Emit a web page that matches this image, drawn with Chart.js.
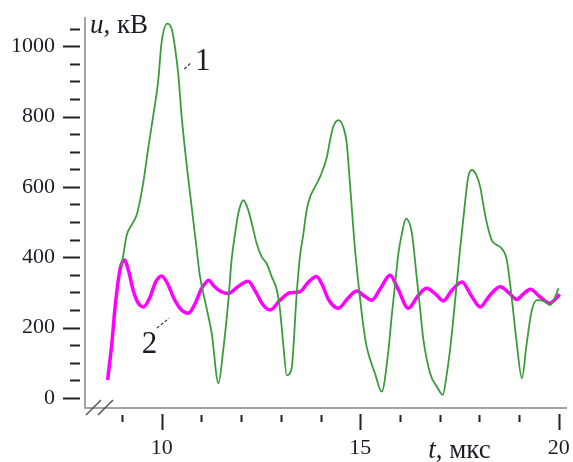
<!DOCTYPE html>
<html>
<head>
<meta charset="utf-8">
<script src="https://cdn.jsdelivr.net/npm/chart.js@4.4.1/dist/chart.umd.min.js"></script>
<style>
  html, body { margin: 0; padding: 0; background: #fff; }
  #wrap { width: 573px; height: 462px; }
</style>
</head>
<body>
<div id="wrap"><canvas id="voltChart" width="573" height="462"></canvas></div>
<script>
// curve 1 (green)
const tCurve1 = [8.97, 9.02, 9.12, 9.24, 9.37, 9.45, 9.54, 9.66, 9.79, 9.91, 10.0, 10.14, 10.25, 10.34, 10.42, 10.5,
  10.63, 10.76, 10.88, 10.96, 11.13, 11.26, 11.43, 11.55, 11.68, 11.76, 11.85, 11.93, 12.06, 12.18, 12.27, 12.39,
  12.52, 12.64, 12.77, 12.9, 12.98, 13.06, 13.15, 13.27, 13.4, 13.48, 13.57, 13.65, 13.74, 13.86, 13.99, 14.16,
  14.24, 14.32, 14.45, 14.57, 14.66, 14.74, 14.87, 15.0, 15.08, 15.16, 15.37, 15.54, 15.71, 15.79, 15.88, 15.96,
  16.05, 16.15, 16.3, 16.42, 16.51, 16.59, 16.76, 16.93, 17.08, 17.18, 17.26, 17.43, 17.51, 17.6, 17.72, 17.81,
  17.92, 18.02, 18.1, 18.19, 18.31, 18.44, 18.56, 18.69, 18.82, 18.94, 19.07, 19.19, 19.32, 19.45, 19.65, 19.78,
  19.91, 19.99];
const uCurve1 = [375, 397, 463, 491, 520, 558, 614, 709, 804, 899, 1012, 1064, 1050, 993, 918, 804,
  662, 539, 425, 349, 256, 184, 42, 136, 278, 392, 468, 525, 562, 534, 496, 440,
  401, 383, 345, 307, 250, 155, 65, 84, 297, 401, 468, 534, 572, 600, 629, 685,
  733, 771, 790, 771, 724, 610, 420, 278, 203, 146, 70, 18, 136, 231, 326, 411,
  468, 510, 468, 345, 250, 165, 70, 32, 9, 70, 136, 326, 420, 515, 629, 648,
  634, 600, 548, 496, 449, 435, 425, 392, 278, 155, 56, 155, 250, 278, 274, 264,
  288, 312];

// curve 2 (magenta)
const tCurve2 = [8.64, 8.75, 8.82, 8.95, 9.06, 9.17, 9.28, 9.4, 9.54, 9.7, 9.85, 10.0, 10.15, 10.3, 10.5, 10.67,
  10.85, 11.0, 11.19, 11.3, 11.43, 11.68, 11.9, 12.18, 12.35, 12.55, 12.73, 12.98, 13.23, 13.48, 13.7, 13.9,
  14.05, 14.2, 14.45, 14.7, 14.91, 15.1, 15.29, 15.5, 15.75, 15.95, 16.21, 16.45, 16.67, 16.9, 17.09, 17.3,
  17.56, 17.8, 18.02, 18.25, 18.52, 18.75, 18.94, 19.1, 19.28, 19.5, 19.78, 19.9, 20.02];
const uCurve2 = [51, 160, 250, 364, 392, 360, 307, 272, 259, 285, 330, 347, 325, 285, 250, 241,
  270, 310, 335, 320, 307, 297, 315, 332, 305, 265, 250, 278, 299, 302, 330, 345,
  320, 280, 255, 285, 304, 290, 278, 310, 349, 310, 255, 290, 312, 295, 276, 305,
  330, 290, 259, 290, 316, 298, 280, 295, 309, 290, 269, 280, 295];

// ticks
const yMajorTicks = [0, 200, 400, 600, 800, 1000];
const yMinorTicks = [50, 100, 150, 250, 300, 350, 450, 500, 550, 650, 700, 750, 850, 900, 950, 1050];
const xMajorTicks = [10, 15, 20];
const xMinorTicks = [9, 11, 12, 13, 14, 16, 17, 18, 19];

const serif = '"Liberation Serif", "Times New Roman", serif';
const inkColor = '#1c1c28';

function toPoints(ts, us) {
  return ts.map((t, i) => ({ x: t, y: us[i] }));
}

// keep the plot area where the reference has it
function fixPadding(scale) {
  scale.paddingTop = 0;
  scale.paddingBottom = 0;
  scale.paddingLeft = 0;
  scale.paddingRight = 0;
}

// draws tick marks, axis break and the text annotations
const decorPlugin = {
  id: 'decor',
  afterDraw(chart) {
    const ctx = chart.ctx;
    const area = chart.chartArea;
    const xs = chart.scales.x;
    const ys = chart.scales.y;
    ctx.save();
    ctx.strokeStyle = '#222';
    ctx.lineWidth = 2;
    ctx.beginPath();
    yMajorTicks.forEach(v => {
      const y = Math.round(ys.getPixelForValue(v)) + 0.5;
      ctx.moveTo(area.left - 22, y);
      ctx.lineTo(area.left - 5, y);
    });
    yMinorTicks.forEach(v => {
      const y = Math.round(ys.getPixelForValue(v)) + 0.5;
      ctx.moveTo(area.left - 15, y);
      ctx.lineTo(area.left - 5, y);
    });
    xMajorTicks.forEach(v => {
      const x = Math.round(xs.getPixelForValue(v)) + 0.5;
      ctx.moveTo(x, area.bottom + 6);
      ctx.lineTo(x, area.bottom + 22);
    });
    xMinorTicks.forEach(v => {
      const x = Math.round(xs.getPixelForValue(v)) + 0.5;
      ctx.moveTo(x, area.bottom + 7);
      ctx.lineTo(x, area.bottom + 14);
    });
    ctx.stroke();

    // axis break "//"
    ctx.strokeStyle = '#555';
    ctx.lineWidth = 1.5;
    ctx.beginPath();
    ctx.moveTo(area.left + 1, area.bottom + 7);
    ctx.lineTo(area.left + 16, area.bottom - 8);
    ctx.moveTo(area.left + 13, area.bottom + 7);
    ctx.lineTo(area.left + 28, area.bottom - 8);
    ctx.stroke();

    // leader lines to the curve numbers
    ctx.strokeStyle = '#333';
    ctx.lineWidth = 1.2;
    ctx.setLineDash([3, 2]);
    ctx.beginPath();
    ctx.moveTo(xs.getPixelForValue(10.57), ys.getPixelForValue(935));
    ctx.lineTo(xs.getPixelForValue(10.74), ys.getPixelForValue(953));
    ctx.moveTo(xs.getPixelForValue(9.88), ys.getPixelForValue(199));
    ctx.lineTo(xs.getPixelForValue(10.19), ys.getPixelForValue(227));
    ctx.stroke();
    ctx.setLineDash([]);

    ctx.fillStyle = inkColor;
    ctx.textBaseline = 'alphabetic';
    ctx.textAlign = 'left';
    ctx.font = '31px ' + serif;
    ctx.fillText('1', xs.getPixelForValue(10.84), ys.getPixelForValue(932));
    ctx.fillText('2', xs.getPixelForValue(9.5), ys.getPixelForValue(128));

    // axis titles
    ctx.font = 'italic 27px ' + serif;
    ctx.fillText('u', area.left + 5, area.top + 15);
    let w = ctx.measureText('u').width;
    ctx.font = '27px ' + serif;
    ctx.fillText(', кВ', area.left + 5 + w, area.top + 15);

    ctx.font = 'italic 27px ' + serif;
    const tx = xs.getPixelForValue(16.71);
    ctx.fillText('t', tx, area.bottom + 50);
    w = ctx.measureText('t').width;
    ctx.font = '27px ' + serif;
    ctx.fillText(', мкс', tx + w, area.bottom + 50);
    ctx.restore();
  }
};

new Chart(document.getElementById('voltChart'), {
  type: 'line',
  data: {
    datasets: [{
      label: '1',
      data: toPoints(tCurve1, uCurve1),
      borderColor: '#3c9c3c',
      borderWidth: 1.8,
      pointRadius: 0,
      cubicInterpolationMode: 'monotone',
      fill: false
    }, {
      label: '2',
      data: toPoints(tCurve2, uCurve2),
      borderColor: '#ff00ff',
      borderWidth: 3.5,
      pointRadius: 0,
      cubicInterpolationMode: 'monotone',
      fill: false
    }]
  },
  options: {
    responsive: false,
    animation: false,
    events: [],
    layout: { padding: { top: 18, right: 7, left: 0, bottom: 0 } },
    plugins: {
      legend: { display: false },
      tooltip: { enabled: false }
    },
    scales: {
      x: {
        type: 'linear',
        min: 8.07,
        max: 20.18,
        afterFit: scale => { scale.height = 54; fixPadding(scale); },
        afterBuildTicks: scale => { scale.ticks = xMajorTicks.map(v => ({ value: v })); },
        grid: { display: false, drawTicks: false },
        border: { display: true, color: '#a3a3a3', width: 2 },
        ticks: {
          padding: 27,
          color: inkColor,
          font: { family: serif, size: 22 },
          maxRotation: 0,
          autoSkip: false,
          callback: v => String(v)
        }
      },
      y: {
        type: 'linear',
        min: -28.4,
        max: 1080,
        afterFit: scale => { scale.width = 85; fixPadding(scale); },
        afterBuildTicks: scale => { scale.ticks = yMajorTicks.map(v => ({ value: v })); },
        grid: { display: false, drawTicks: false },
        border: { display: true, color: '#a3a3a3', width: 2 },
        ticks: {
          padding: 30,
          color: inkColor,
          font: { family: serif, size: 22 },
          autoSkip: false,
          callback: v => String(v)
        }
      }
    }
  },
  plugins: [decorPlugin]
});
</script>
</body>
</html>
